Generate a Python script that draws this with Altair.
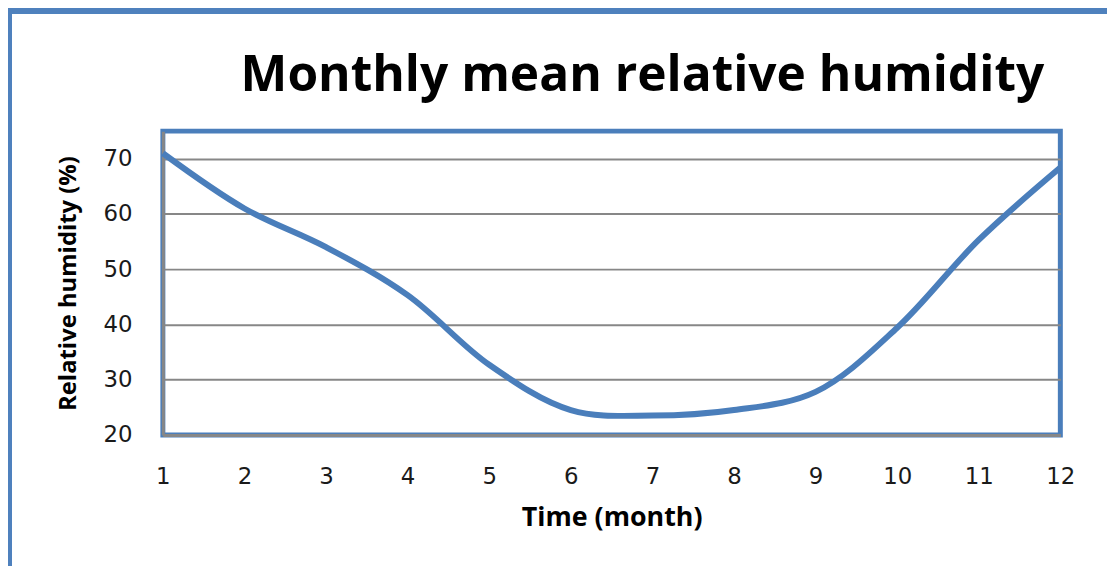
import altair as alt
import pandas as pd

months = [1, 2, 3, 4, 5, 6, 7, 8, 9, 10, 11, 12]
humidity = [71.0, 61.0, 54.0, 45.3, 32.7, 24.5, 23.5, 24.5, 27.8, 39.4, 55.3, 68.4]
y_ticks = [20, 30, 40, 50, 60, 70]

df = pd.DataFrame({"month": months, "rh": humidity})

BLUE = "#4a7ebb"
GRAY = "#878787"
W, H = 904, 306

x_enc = alt.X(
    "month:Q",
    scale=alt.Scale(domain=[1, 12], nice=False, zero=False),
    axis=alt.Axis(
        values=months, title="Time (month)", grid=False, ticks=False,
        domain=True, domainColor=GRAY, domainWidth=3,
        labelFont="DejaVu Sans", labelFontSize=23, labelColor="#1a1a1a",
        labelPadding=31, labelFlush=False,
        titleFont="Open Sans", titleFontSize=27, titleFontWeight="bold",
        titleColor="#000000", titleX=W / 2, titleY=91,
        titleBaseline="alphabetic", titleAlign="center",
    ),
)
y_enc = alt.Y(
    "rh:Q",
    scale=alt.Scale(domain=[20, 75], nice=False, zero=False),
    axis=alt.Axis(
        values=y_ticks, title="Relative humidity (%)", grid=True,
        gridColor=GRAY, gridWidth=2, ticks=False,
        domain=True, domainColor=GRAY, domainWidth=3,
        labelFont="DejaVu Sans", labelFontSize=23, labelColor="#1a1a1a",
        labelPadding=31, labelFlush=False,
        titleFont="Open Sans", titleFontSize=24, titleFontWeight="bold",
        titleColor="#000000", titleX=-88, titleY=H / 2,
        titleBaseline="alphabetic", titleAlign="center", titleAngle=-90,
    ),
)

line = alt.Chart(df).mark_line(
    color=BLUE, strokeWidth=6, interpolate="catmull-rom"
).encode(x=x_enc, y=y_enc)

frame = alt.Chart(df).mark_rect(
    filled=False, stroke="#4f81bd", strokeWidth=6
).encode(
    x=alt.value(-155.5), x2=alt.value(1300),
    y=alt.value(-121.5), y2=alt.value(800),
)

chart = alt.layer(line, frame).properties(
    width=W, height=H,
    autosize=alt.AutoSizeParams(type="none"),
    padding={"left": 156, "top": 122, "right": 47, "bottom": 130},
    background="white",
    title=alt.TitleParams(
        "Monthly mean relative humidity",
        font="Open Sans", fontSize=50, fontWeight="bold", color="#000000",
        anchor="middle", dx=31, baseline="alphabetic", offset=38, dy=172.5,
    ),
).configure_view(
    stroke=BLUE, strokeWidth=5
)

chart.save("out.html", embed_options={"renderer": "svg", "actions": False})
